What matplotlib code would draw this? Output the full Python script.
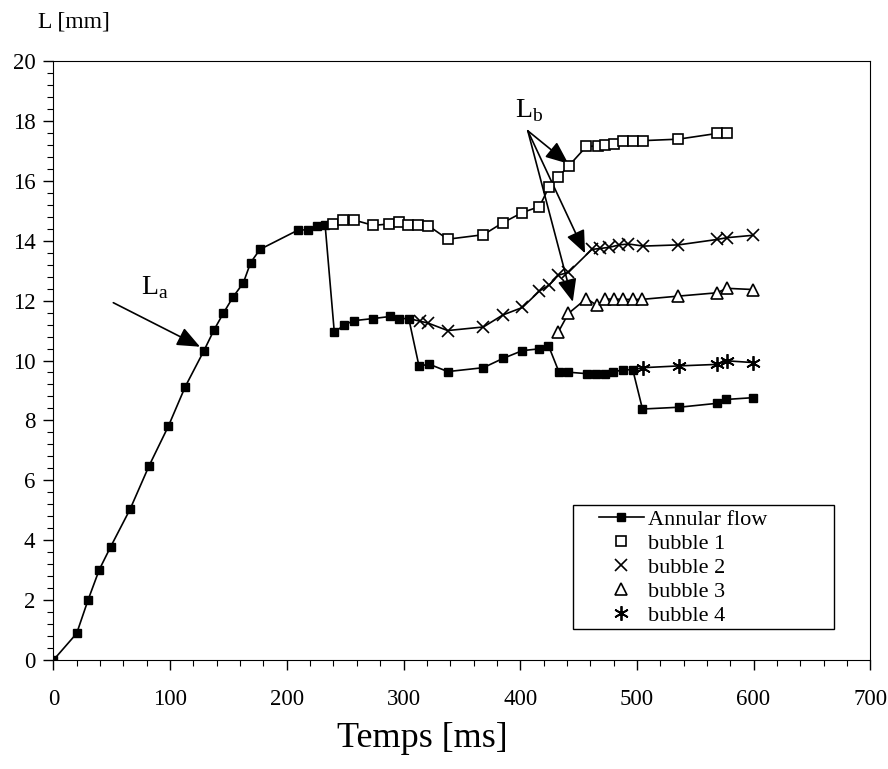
import numpy as np
import matplotlib.pyplot as plt
from matplotlib.ticker import MultipleLocator
from matplotlib.patches import Rectangle

plt.rcParams['font.family'] = ['Liberation Serif', 'DejaVu Serif']
plt.rcParams['mathtext.fontset'] = 'custom'
plt.rcParams['mathtext.rm'] = 'Liberation Serif'

# annular flow (time in ms, length in mm)
annular_t = [0, 19.9, 29.8, 39.3, 49.0, 65.6, 81.9, 98.4, 113, 129, 137.6, 145.6,
             154.1, 162.7, 169, 177, 209.9, 217.9, 226.1, 232.8,
             240.7, 249.3, 257.4, 273.9, 288.5, 296.4, 304.5,
             313.3, 321.9, 337.9, 368.4, 385.3, 401.9, 416.5, 424.2,
             433.3, 441.1, 457.4, 465.1, 472.4, 479.9, 488.5, 496.5,
             504.8, 536.2, 568.5, 576.5, 599.9]
annular_L = [0, 0.89, 2.02, 3.02, 3.78, 5.03, 6.48, 7.8, 9.13, 10.33, 11.02, 11.58,
             12.13, 12.59, 13.27, 13.71, 14.36, 14.36, 14.48, 14.53,
             10.94, 11.19, 11.33, 11.4, 11.47, 11.4, 11.4,
             9.81, 9.88, 9.63, 9.76, 10.07, 10.33, 10.39, 10.5,
             9.61, 9.61, 9.56, 9.56, 9.56, 9.62, 9.69, 9.69,
             8.38, 8.44, 8.57, 8.7, 8.76]

# bubble 1
b1_t = [239.9, 248.4, 257.6, 274.2, 287.9, 296.4, 304.2, 312.7, 321.3, 337.9,
        368.5, 385.1, 401.9, 416.5, 424.8, 432.8, 441.9, 456.8, 466.5, 472.5,
        480.0, 487.8, 497.0, 505.1, 535.6, 568.5, 577.1]
b1_L = [14.56, 14.69, 14.69, 14.51, 14.56, 14.64, 14.51, 14.51, 14.5, 14.05,
        14.2, 14.6, 14.94, 15.14, 15.8, 16.14, 16.51, 17.15, 17.16, 17.21,
        17.22, 17.34, 17.34, 17.34, 17.39, 17.58, 17.58]

# bubble 2
b2_t = [314.5, 321.0, 337.9, 368.5, 385.1, 401.9, 416.5, 424.8, 432.8, 441.3,
        461.4, 468.5, 476.5, 485.0, 492.8, 505.6, 535.6, 568.5, 577.1, 599.4]
b2_L = [11.31, 11.25, 11.0, 11.12, 11.52, 11.77, 12.32, 12.52, 12.85, 12.94,
        13.71, 13.74, 13.78, 13.86, 13.89, 13.82, 13.86, 14.04, 14.1, 14.18]

# bubble 3
b3_t = [432.8, 441.3, 456.8, 465.4, 472.8, 480.5, 488.5, 496.5, 504.2, 535.6,
        568.5, 577.1, 599.4]
b3_L = [10.96, 11.57, 12.07, 11.85, 12.05, 12.05, 12.04, 12.04, 12.04, 12.15,
        12.26, 12.41, 12.37]

# bubble 4
b4_t = [505.1, 536.2, 568.5, 577.0, 599.9]
b4_L = [9.76, 9.82, 9.87, 9.99, 9.93]

# index of the annular point where each bubble splits off (None = no link)
split_idx = [19, 26, None, 42]

fig = plt.figure(figsize=(8.88, 7.69), dpi=100)
ax = fig.add_axes([0.0602, 0.1417, 0.9198, 0.779])

lw = 1.2
ax.plot(annular_t, annular_L, color='black', lw=lw, marker='s', ms=6,
        mfc='black', mec='black', label='Annular flow', zorder=3)

# bubble lines start at the annular point they split from
for bt, bL, si in zip([b1_t, b2_t, b3_t, b4_t], [b1_L, b2_L, b3_L, b4_L], split_idx):
    if si is not None:
        bt = [annular_t[si]] + bt
        bL = [annular_L[si]] + bL
    ax.plot(bt, bL, color='black', lw=lw, zorder=2)

ax.plot(b1_t, b1_L, ls='none', marker='s', ms=7.5, mfc='white', mec='black',
        mew=1.2, label='bubble 1', zorder=4)
ax.plot(b2_t, b2_L, ls='none', marker='x', ms=8, mec='black', mew=1.2,
        label='bubble 2', zorder=4)
ax.plot(b3_t, b3_L, ls='none', marker='^', ms=8, mfc='white', mec='black',
        mew=1.2, label='bubble 3', zorder=4)
ax.plot(b4_t, b4_L, ls='none', marker=(6, 2, 0), ms=10.5, mec='black', mew=1.3,
        label='bubble 4', zorder=4)

# annotations
arrow = dict(arrowstyle='-|>,head_length=1.0,head_width=0.42', color='black',
             lw=1.2, shrinkA=0, shrinkB=0, mutation_scale=14)
ax.text(87, 12.45, r'L$_\mathrm{a}$', fontsize=20, ha='center', va='center')
ax.annotate('', xy=(125.6, 10.46), xytext=(51.3, 11.93), arrowprops=arrow)

ax.text(407.8, 18.36, r'L$_\mathrm{b}$', fontsize=20, ha='center', va='center')
for tip in [(441.3, 16.57), (455.6, 13.58), (445.1, 11.96)]:
    ax.annotate('', xy=tip, xytext=(406.5, 17.67), arrowprops=arrow)

ax.set_xlim(0, 700)
ax.set_ylim(0, 20)
ax.xaxis.set_major_locator(MultipleLocator(100))
ax.xaxis.set_minor_locator(MultipleLocator(20))
ax.yaxis.set_major_locator(MultipleLocator(2))
ax.yaxis.set_minor_locator(MultipleLocator(0.4))
ax.tick_params(which='major', direction='out', length=7, width=1, labelsize=16.5)
ax.tick_params(axis='x', which='major', pad=14)
ax.tick_params(axis='y', which='major', pad=6)
ax.tick_params(which='minor', direction='out', length=4.5, width=0.8)

fig.text(0.476, 0.040, 'Temps [ms]', fontsize=26, ha='center', va='center')
fig.text(0.124, 0.971, 'L [mm]', fontsize=17, ha='right', va='center')

# legend box drawn separately so the entries sit with a wider left margin
ax.add_patch(Rectangle((0.636, 0.0518), 0.32, 0.207, transform=ax.transAxes,
                       fill=True, facecolor='white', edgecolor='black', lw=1,
                       zorder=5))
leg = ax.legend(loc='upper left', bbox_to_anchor=(0.668, 0.252), borderaxespad=0,
                fontsize=16, frameon=False, handlelength=2.0, handletextpad=0.2,
                labelspacing=0.16, borderpad=0)
leg.set_zorder(6)

plt.savefig('out.png', dpi=100)
